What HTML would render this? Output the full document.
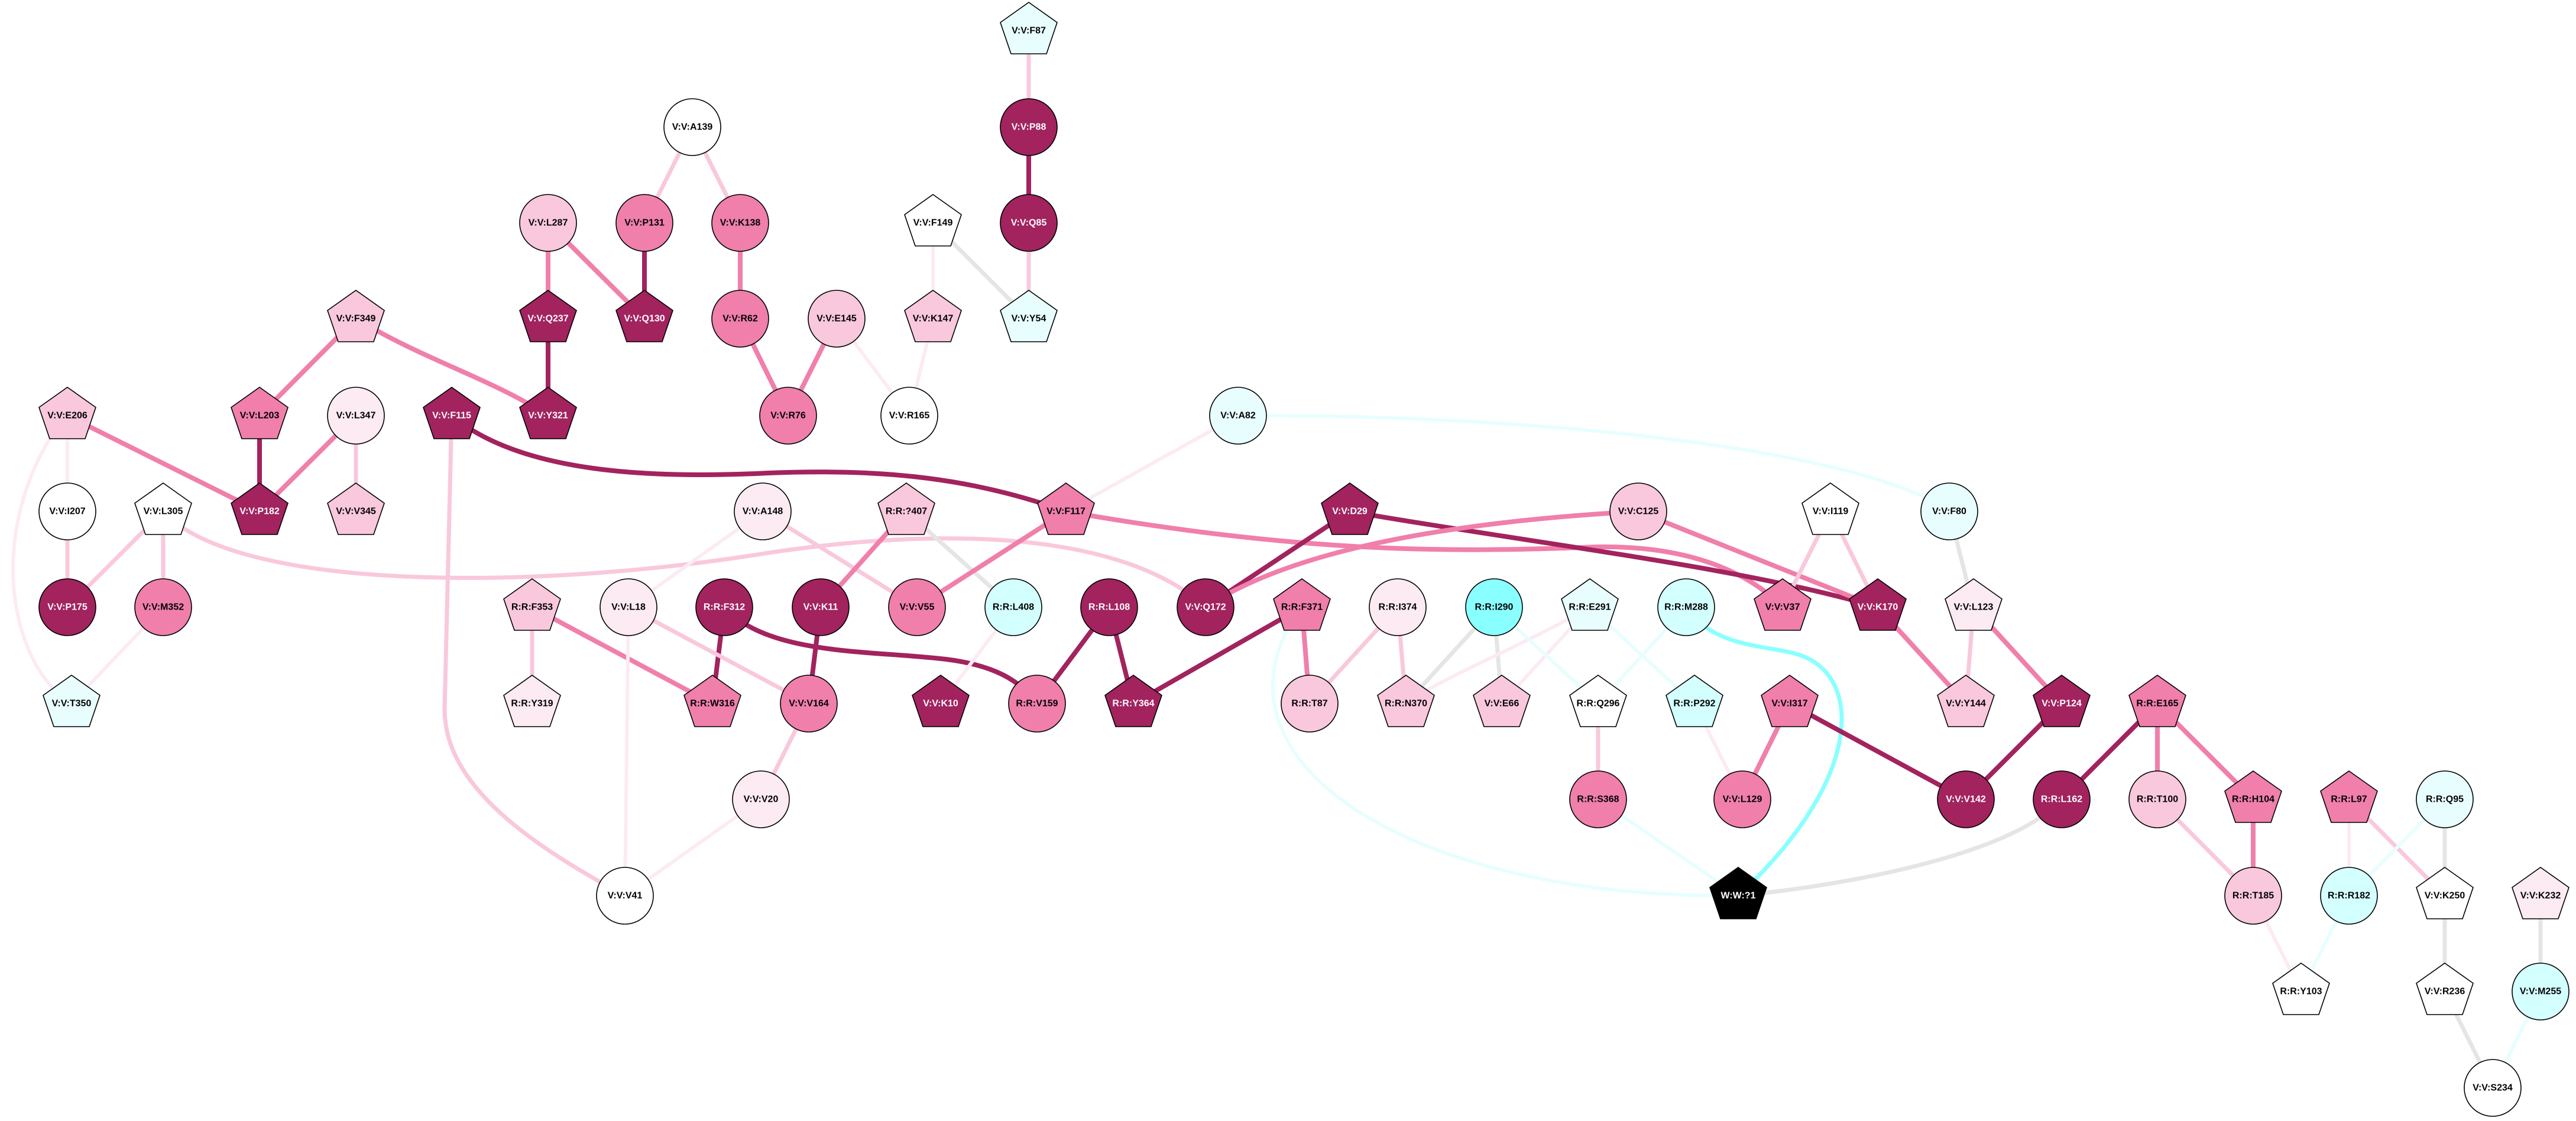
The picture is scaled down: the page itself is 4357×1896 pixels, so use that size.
<!DOCTYPE html>
<html><head><meta charset="utf-8"><style>
html,body{margin:0;padding:0;background:#fff}
svg{display:block}
text{font-family:"Liberation Sans",Arial,sans-serif;font-weight:bold;font-size:16px;text-anchor:middle;dominant-baseline:central}
.n{stroke:#000;stroke-width:1.6}
.D{fill:#a2235e}.M{fill:#f07fab}.L{fill:#f9c8dc}.V{fill:#fcebf2}.W{fill:#fff}.C{fill:#e8fefe}.C2{fill:#d4ffff}.C3{fill:#8affff}.K{fill:#000}
.tw{fill:#fff}
path{fill:none;stroke-linecap:butt}
.ed{stroke:#a2235e;stroke-width:8}.em{stroke:#f07fab;stroke-width:8}.el{stroke:#f9c8dc;stroke-width:7}.ev{stroke:#fcebf2;stroke-width:6}.eg{stroke:#e5e5e5;stroke-width:7}.ec{stroke:#e8fefe;stroke-width:6}.es{stroke:#8affff;stroke-width:7}
</style></head><body>
<svg width="4357" height="1896" viewBox="0 0 4357 1896" xmlns="http://www.w3.org/2000/svg">
<path class="el" d="M1740,52 L1740,215"/>
<path class="ed" d="M1740,215 L1740,377"/>
<path class="el" d="M1740,377 L1740,539"/>
<path class="ev" d="M1578,377 L1578,539"/>
<path class="eg" d="M1578,377 L1740,539"/>
<path class="ev" d="M1578,539 L1538,703"/>
<path class="ev" d="M1415,539 L1538,703"/>
<path class="el" d="M1171,215 L1090,377"/>
<path class="el" d="M1171,215 L1252,377"/>
<path class="em" d="M927,377 L927,539"/>
<path class="em" d="M927,377 L1090,539"/>
<path class="ed" d="M1090,377 L1090,539"/>
<path class="em" d="M1252,377 L1252,539"/>
<path class="em" d="M1252,539 L1333,703"/>
<path class="em" d="M1415,539 L1333,703"/>
<path class="em" d="M602,539 L439,703"/>
<path class="em" d="M602,539 C720,610 830,640 927,703"/>
<path class="ed" d="M927,539 L927,703"/>
<path class="em" d="M114,703 L439,865"/>
<path class="ed" d="M439,703 L439,865"/>
<path class="em" d="M602,703 L439,865"/>
<path class="el" d="M602,703 L602,865"/>
<path class="ev" d="M114,703 L114,865"/>
<path class="ev" d="M114,703 C60,760 0,900 30,1040 C50,1130 90,1170 121,1190"/>
<path class="ed" d="M764,703 C880,800 1100,810 1300,800 C1500,792 1650,810 1803,865"/>
<path class="el" d="M764,703 L752,1200 C752,1330 900,1430 1057,1515"/>
<path class="el" d="M276,865 C400,1000 900,1000 1300,935 C1600,890 1900,900 2039,1027"/>
<path class="el" d="M276,865 L114,1027"/>
<path class="el" d="M276,865 L276,1027"/>
<path class="el" d="M114,865 L114,1027"/>
<path class="ev" d="M276,1027 L121,1190"/>
<path class="el" d="M1290,865 L1551,1027"/>
<path class="ev" d="M1290,865 L1063,1027"/>
<path class="em" d="M1533,865 L1388,1027"/>
<path class="eg" d="M1533,865 L1714,1027"/>
<path class="em" d="M1803,865 L1551,1027"/>
<path class="ev" d="M2094,703 L1803,865"/>
<path class="ec" d="M2094,703 C2600,700 3150,760 3297,865"/>
<path class="em" d="M1803,865 C2200,935 2450,935 2700,925 C2860,922 2960,970 3015,1027"/>
<path class="ed" d="M2283,865 C2600,920 2950,960 3176,1027"/>
<path class="ed" d="M2283,865 L2039,1027"/>
<path class="em" d="M2771,865 C2500,880 2200,920 2039,1027"/>
<path class="em" d="M2771,865 L3176,1027"/>
<path class="el" d="M3096,865 L3015,1027"/>
<path class="el" d="M3096,865 L3176,1027"/>
<path class="eg" d="M3297,865 L3338,1027"/>
<path class="em" d="M3176,1027 L3325,1190"/>
<path class="el" d="M3338,1027 L3325,1190"/>
<path class="em" d="M3338,1027 L3487,1190"/>
<path class="el" d="M900,1027 L900,1190"/>
<path class="em" d="M900,1027 L1205,1190"/>
<path class="ed" d="M1225,1027 L1205,1190"/>
<path class="ed" d="M1225,1027 C1300,1110 1480,1100 1600,1115 C1680,1125 1725,1150 1754,1190"/>
<path class="ev" d="M1063,1027 L1057,1515"/>
<path class="el" d="M1063,1027 L1368,1190"/>
<path class="ed" d="M1388,1027 L1368,1190"/>
<path class="el" d="M1368,1190 L1287,1352"/>
<path class="ev" d="M1287,1352 L1057,1515"/>
<path class="ev" d="M1714,1027 L1591,1190"/>
<path class="ed" d="M1876,1027 L1754,1190"/>
<path class="ed" d="M1876,1027 L1917,1190"/>
<path class="ed" d="M2202,1027 L1917,1190"/>
<path class="em" d="M2202,1027 L2215,1190"/>
<path class="el" d="M2364,1027 L2215,1190"/>
<path class="el" d="M2364,1027 L2378,1190"/>
<path class="eg" d="M2527,1027 L2378,1190"/>
<path class="eg" d="M2527,1027 L2540,1190"/>
<path class="ev" d="M2689,1027 C2560,1100 2450,1140 2378,1190"/>
<path class="ev" d="M2689,1027 L2540,1190"/>
<path class="ec" d="M2527,1027 L2703,1190"/>
<path class="ec" d="M2689,1027 L2866,1190"/>
<path class="ec" d="M2852,1027 L2703,1190"/>
<path class="el" d="M2703,1190 L2703,1352"/>
<path class="ec" d="M2703,1352 L2940,1515"/>
<path class="ec" d="M2180,1060 C2050,1300 2400,1520 2940,1515"/>
<path class="es" d="M2852,1027 C2900,1100 3000,1090 3050,1110 C3150,1150 3150,1320 2940,1515"/>
<path class="ev" d="M2866,1190 L2947,1352"/>
<path class="em" d="M3027,1190 L2947,1352"/>
<path class="ed" d="M3027,1190 L3325,1352"/>
<path class="ed" d="M3487,1190 L3325,1352"/>
<path class="ed" d="M3649,1190 L3487,1352"/>
<path class="em" d="M3649,1190 L3649,1352"/>
<path class="em" d="M3649,1190 L3811,1352"/>
<path class="eg" d="M3487,1352 C3400,1450 3100,1500 2940,1515"/>
<path class="el" d="M3649,1352 L3811,1515"/>
<path class="em" d="M3811,1352 L3811,1515"/>
<path class="ev" d="M3973,1352 L3973,1515"/>
<path class="el" d="M3973,1352 L4135,1515"/>
<path class="ec" d="M4135,1352 L3973,1515"/>
<path class="eg" d="M4135,1352 L4135,1515"/>
<path class="ev" d="M3811,1515 L3892,1677"/>
<path class="ec" d="M3973,1515 L3892,1677"/>
<path class="eg" d="M4135,1515 L4135,1677"/>
<path class="eg" d="M4135,1677 L4216,1840"/>
<path class="eg" d="M4297,1515 L4297,1677"/>
<path class="ec" d="M4297,1677 L4216,1840"/>

<g class="n">
<circle class="W" cx="1171" cy="215" r="48"/>
<circle class="D" cx="1740" cy="215" r="48"/>
<circle class="L" cx="927" cy="377" r="48"/>
<circle class="M" cx="1090" cy="377" r="48"/>
<circle class="M" cx="1252" cy="377" r="48"/>
<circle class="D" cx="1740" cy="377" r="48"/>
<circle class="M" cx="1252" cy="539" r="48"/>
<circle class="L" cx="1415" cy="539" r="48"/>
<circle class="V" cx="602" cy="703" r="48"/>
<circle class="M" cx="1333" cy="703" r="48"/>
<circle class="W" cx="1538" cy="703" r="48"/>
<circle class="C" cx="2094" cy="703" r="48"/>
<circle class="W" cx="114" cy="865" r="48"/>
<circle class="V" cx="1290" cy="865" r="48"/>
<circle class="L" cx="2771" cy="865" r="48"/>
<circle class="C" cx="3297" cy="865" r="48"/>
<circle class="D" cx="114" cy="1027" r="48"/>
<circle class="M" cx="276" cy="1027" r="48"/>
<circle class="V" cx="1063" cy="1027" r="48"/>
<circle class="D" cx="1225" cy="1027" r="48"/>
<circle class="D" cx="1388" cy="1027" r="48"/>
<circle class="M" cx="1551" cy="1027" r="48"/>
<circle class="C2" cx="1714" cy="1027" r="48"/>
<circle class="D" cx="1876" cy="1027" r="48"/>
<circle class="D" cx="2039" cy="1027" r="48"/>
<circle class="V" cx="2364" cy="1027" r="48"/>
<circle class="C3" cx="2527" cy="1027" r="48"/>
<circle class="C2" cx="2852" cy="1027" r="48"/>
<circle class="M" cx="1368" cy="1190" r="48"/>
<circle class="M" cx="1754" cy="1190" r="48"/>
<circle class="L" cx="2215" cy="1190" r="48"/>
<circle class="V" cx="1287" cy="1352" r="48"/>
<circle class="M" cx="2703" cy="1352" r="48"/>
<circle class="M" cx="2947" cy="1352" r="48"/>
<circle class="D" cx="3325" cy="1352" r="48"/>
<circle class="D" cx="3487" cy="1352" r="48"/>
<circle class="L" cx="3649" cy="1352" r="48"/>
<circle class="C" cx="4135" cy="1352" r="48"/>
<circle class="W" cx="1057" cy="1515" r="48"/>
<circle class="L" cx="3811" cy="1515" r="48"/>
<circle class="C2" cx="3973" cy="1515" r="48"/>
<circle class="C2" cx="4297" cy="1677" r="48"/>
<circle class="W" cx="4216" cy="1840" r="48"/>
</g>
<g class="n">
<polygon class="C" points="1740,4 1788,38 1770,91 1710,91 1692,38"/>
<polygon class="W" points="1578,329 1626,363 1608,416 1548,416 1530,363"/>
<polygon class="L" points="602,491 650,525 632,578 572,578 554,525"/>
<polygon class="D" points="927,491 975,525 957,578 897,578 879,525"/>
<polygon class="D" points="1090,491 1138,525 1120,578 1060,578 1042,525"/>
<polygon class="L" points="1578,491 1626,525 1608,578 1548,578 1530,525"/>
<polygon class="C" points="1740,491 1788,525 1770,578 1710,578 1692,525"/>
<polygon class="L" points="114,655 162,689 144,742 84,742 66,689"/>
<polygon class="M" points="439,655 487,689 469,742 409,742 391,689"/>
<polygon class="D" points="764,655 812,689 794,742 734,742 716,689"/>
<polygon class="D" points="927,655 975,689 957,742 897,742 879,689"/>
<polygon class="W" points="276,817 324,851 306,904 246,904 228,851"/>
<polygon class="D" points="439,817 487,851 469,904 409,904 391,851"/>
<polygon class="L" points="602,817 650,851 632,904 572,904 554,851"/>
<polygon class="L" points="1533,817 1581,851 1563,904 1503,904 1485,851"/>
<polygon class="M" points="1803,817 1851,851 1833,904 1773,904 1755,851"/>
<polygon class="D" points="2283,817 2331,851 2313,904 2253,904 2235,851"/>
<polygon class="W" points="3096,817 3144,851 3126,904 3066,904 3048,851"/>
<polygon class="L" points="900,979 948,1013 930,1066 870,1066 852,1013"/>
<polygon class="M" points="2202,979 2250,1013 2232,1066 2172,1066 2154,1013"/>
<polygon class="C" points="2689,979 2737,1013 2719,1066 2659,1066 2641,1013"/>
<polygon class="M" points="3015,979 3063,1013 3045,1066 2985,1066 2967,1013"/>
<polygon class="D" points="3176,979 3224,1013 3206,1066 3146,1066 3128,1013"/>
<polygon class="V" points="3338,979 3386,1013 3368,1066 3308,1066 3290,1013"/>
<polygon class="C" points="121,1142 169,1176 151,1229 91,1229 73,1176"/>
<polygon class="V" points="900,1142 948,1176 930,1229 870,1229 852,1176"/>
<polygon class="M" points="1205,1142 1253,1176 1235,1229 1175,1229 1157,1176"/>
<polygon class="D" points="1591,1142 1639,1176 1621,1229 1561,1229 1543,1176"/>
<polygon class="D" points="1917,1142 1965,1176 1947,1229 1887,1229 1869,1176"/>
<polygon class="L" points="2378,1142 2426,1176 2408,1229 2348,1229 2330,1176"/>
<polygon class="L" points="2540,1142 2588,1176 2570,1229 2510,1229 2492,1176"/>
<polygon class="W" points="2703,1142 2751,1176 2733,1229 2673,1229 2655,1176"/>
<polygon class="C2" points="2866,1142 2914,1176 2896,1229 2836,1229 2818,1176"/>
<polygon class="M" points="3027,1142 3075,1176 3057,1229 2997,1229 2979,1176"/>
<polygon class="L" points="3325,1142 3373,1176 3355,1229 3295,1229 3277,1176"/>
<polygon class="D" points="3487,1142 3535,1176 3517,1229 3457,1229 3439,1176"/>
<polygon class="M" points="3649,1142 3697,1176 3679,1229 3619,1229 3601,1176"/>
<polygon class="M" points="3811,1304 3859,1338 3841,1391 3781,1391 3763,1338"/>
<polygon class="M" points="3973,1304 4021,1338 4003,1391 3943,1391 3925,1338"/>
<polygon class="K" points="2940,1467 2988,1501 2970,1554 2910,1554 2892,1501"/>
<polygon class="W" points="4135,1467 4183,1501 4165,1554 4105,1554 4087,1501"/>
<polygon class="V" points="4297,1467 4345,1501 4327,1554 4267,1554 4249,1501"/>
<polygon class="W" points="3892,1629 3940,1663 3922,1716 3862,1716 3844,1663"/>
<polygon class="W" points="4135,1629 4183,1663 4165,1716 4105,1716 4087,1663"/>
</g>
<g>
<text x="1740" y="52">V:V:F87</text>
<text x="1171" y="215">V:V:A139</text>
<text class="tw" x="1740" y="215">V:V:P88</text>
<text x="927" y="377">V:V:L287</text>
<text x="1090" y="377">V:V:P131</text>
<text x="1252" y="377">V:V:K138</text>
<text x="1578" y="377">V:V:F149</text>
<text class="tw" x="1740" y="377">V:V:Q85</text>
<text x="602" y="539">V:V:F349</text>
<text class="tw" x="927" y="539">V:V:Q237</text>
<text class="tw" x="1090" y="539">V:V:Q130</text>
<text x="1252" y="539">V:V:R62</text>
<text x="1415" y="539">V:V:E145</text>
<text x="1578" y="539">V:V:K147</text>
<text x="1740" y="539">V:V:Y54</text>
<text x="114" y="703">V:V:E206</text>
<text x="439" y="703">V:V:L203</text>
<text x="602" y="703">V:V:L347</text>
<text class="tw" x="764" y="703">V:V:F115</text>
<text class="tw" x="927" y="703">V:V:Y321</text>
<text x="1333" y="703">V:V:R76</text>
<text x="1538" y="703">V:V:R165</text>
<text x="2094" y="703">V:V:A82</text>
<text x="114" y="865">V:V:I207</text>
<text x="276" y="865">V:V:L305</text>
<text class="tw" x="439" y="865">V:V:P182</text>
<text x="602" y="865">V:V:V345</text>
<text x="1290" y="865">V:V:A148</text>
<text x="1533" y="865">R:R:?407</text>
<text x="1803" y="865">V:V:F117</text>
<text class="tw" x="2283" y="865">V:V:D29</text>
<text x="2771" y="865">V:V:C125</text>
<text x="3096" y="865">V:V:I119</text>
<text x="3297" y="865">V:V:F80</text>
<text class="tw" x="114" y="1027">V:V:P175</text>
<text x="276" y="1027">V:V:M352</text>
<text x="900" y="1027">R:R:F353</text>
<text x="1063" y="1027">V:V:L18</text>
<text class="tw" x="1225" y="1027">R:R:F312</text>
<text class="tw" x="1388" y="1027">V:V:K11</text>
<text x="1551" y="1027">V:V:V55</text>
<text x="1714" y="1027">R:R:L408</text>
<text class="tw" x="1876" y="1027">R:R:L108</text>
<text class="tw" x="2039" y="1027">V:V:Q172</text>
<text x="2202" y="1027">R:R:F371</text>
<text x="2364" y="1027">R:R:I374</text>
<text x="2527" y="1027">R:R:I290</text>
<text x="2689" y="1027">R:R:E291</text>
<text x="2852" y="1027">R:R:M288</text>
<text x="3015" y="1027">V:V:V37</text>
<text class="tw" x="3176" y="1027">V:V:K170</text>
<text x="3338" y="1027">V:V:L123</text>
<text x="121" y="1190">V:V:T350</text>
<text x="900" y="1190">R:R:Y319</text>
<text x="1205" y="1190">R:R:W316</text>
<text x="1368" y="1190">V:V:V164</text>
<text class="tw" x="1591" y="1190">V:V:K10</text>
<text x="1754" y="1190">R:R:V159</text>
<text class="tw" x="1917" y="1190">R:R:Y364</text>
<text x="2215" y="1190">R:R:T87</text>
<text x="2378" y="1190">R:R:N370</text>
<text x="2540" y="1190">V:V:E66</text>
<text x="2703" y="1190">R:R:Q296</text>
<text x="2866" y="1190">R:R:P292</text>
<text x="3027" y="1190">V:V:I317</text>
<text x="3325" y="1190">V:V:Y144</text>
<text class="tw" x="3487" y="1190">V:V:P124</text>
<text x="3649" y="1190">R:R:E165</text>
<text x="1287" y="1352">V:V:V20</text>
<text x="2703" y="1352">R:R:S368</text>
<text x="2947" y="1352">V:V:L129</text>
<text class="tw" x="3325" y="1352">V:V:V142</text>
<text class="tw" x="3487" y="1352">R:R:L162</text>
<text x="3649" y="1352">R:R:T100</text>
<text x="3811" y="1352">R:R:H104</text>
<text x="3973" y="1352">R:R:L97</text>
<text x="4135" y="1352">R:R:Q95</text>
<text x="1057" y="1515">V:V:V41</text>
<text class="tw" x="2940" y="1515">W:W:?1</text>
<text x="3811" y="1515">R:R:T185</text>
<text x="3973" y="1515">R:R:R182</text>
<text x="4135" y="1515">V:V:K250</text>
<text x="4297" y="1515">V:V:K232</text>
<text x="3892" y="1677">R:R:Y103</text>
<text x="4135" y="1677">V:V:R236</text>
<text x="4297" y="1677">V:V:M255</text>
<text x="4216" y="1840">V:V:S234</text>
</g>
</svg>
</body></html>
